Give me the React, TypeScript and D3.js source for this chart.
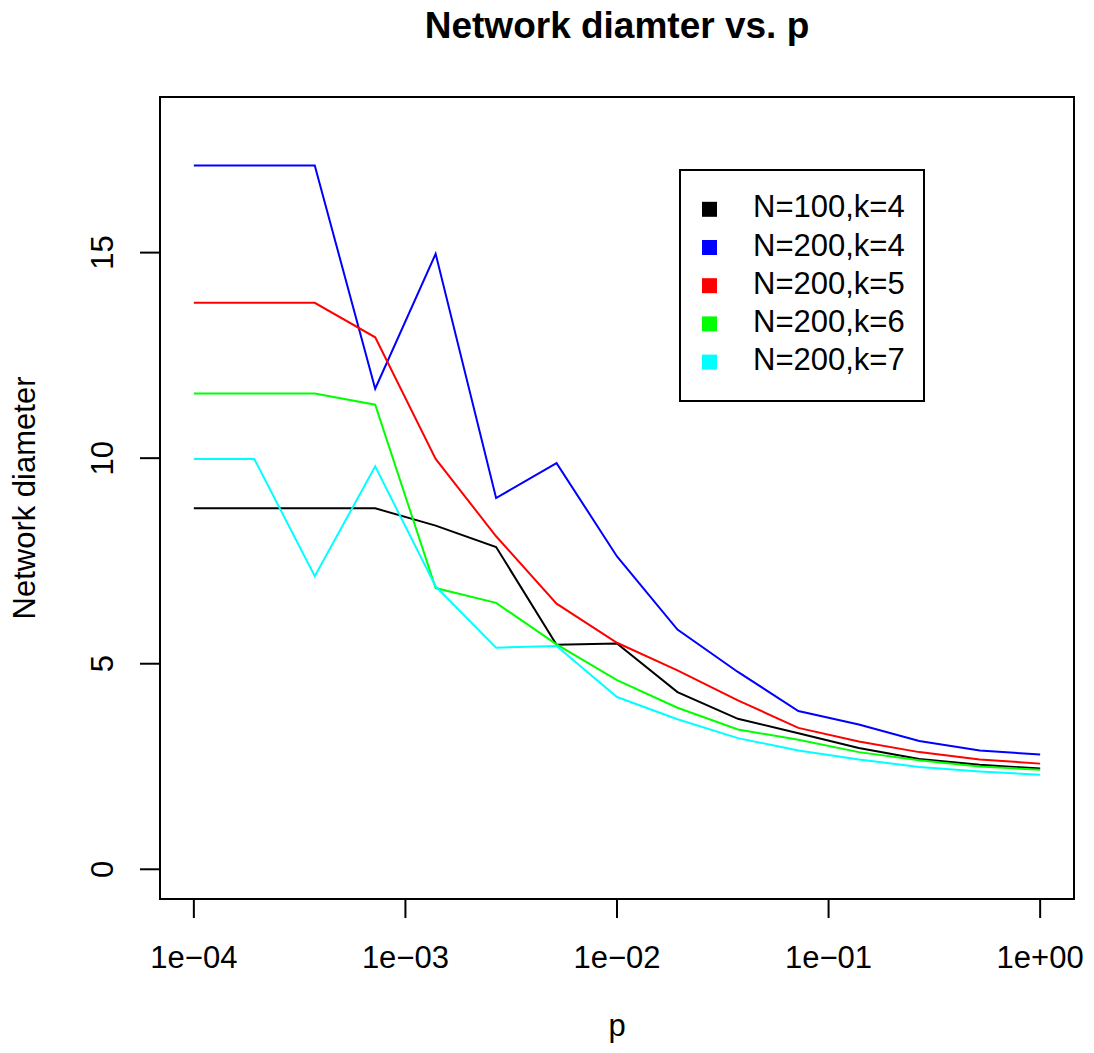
import * as d3 from "d3";

// p values (log spaced, 15 points from 1e-4 to 1)
const pValues = [
  1e-4, 1.931e-4, 3.728e-4, 7.197e-4, 1.3895e-3, 2.6827e-3, 5.1795e-3, 1e-2,
  1.931e-2, 3.728e-2, 7.197e-2, 0.13895, 0.26827, 0.51795, 1,
];

const n100k4 = [8.78, 8.78, 8.78, 8.78, 8.36, 7.84, 5.46, 5.49, 4.31, 3.66, 3.31, 2.95, 2.68, 2.54, 2.45];
const n200k4 = [17.12, 17.12, 17.12, 11.69, 14.97, 9.03, 9.88, 7.61, 5.83, 4.8, 3.85, 3.52, 3.12, 2.89, 2.79];
const n200k5 = [13.78, 13.78, 13.78, 12.94, 9.98, 8.1, 6.46, 5.51, 4.84, 4.11, 3.44, 3.11, 2.85, 2.67, 2.57];
const n200k6 = [11.57, 11.57, 11.57, 11.3, 6.84, 6.48, 5.47, 4.6, 3.93, 3.4, 3.15, 2.85, 2.65, 2.5, 2.42];
const n200k7 = [9.98, 9.98, 7.13, 9.8, 6.88, 5.39, 5.43, 4.19, 3.65, 3.19, 2.89, 2.67, 2.49, 2.38, 2.3];

const seriesNames = ["N=100,k=4", "N=200,k=4", "N=200,k=5", "N=200,k=6", "N=200,k=7"];
const seriesValues = [n100k4, n200k4, n200k5, n200k6, n200k7];
const seriesColors = ["#000000", "#0000ff", "#ff0000", "#00ff00", "#00ffff"];

const xTicks = [1e-4, 1e-3, 1e-2, 1e-1, 1];
const xTickLabels = ["1e\u221204", "1e\u221203", "1e\u221202", "1e\u221201", "1e+00"];
const yTicks = [0, 5, 10, 15];

const width = 1094;
const height = 1053;
const font = "'Liberation Sans', Arial, Helvetica, sans-serif";

const App = () => {
  const left = 160, right = 1074, top = 97, bottom = 899;

  // R style 4% padding on each side
  const x = d3.scaleLog().domain([10 ** -4.16, 10 ** 0.16]).range([left, right]);
  const y = d3.scaleLinear().domain([-0.7228, 18.785]).range([bottom, top]);

  const line = d3.line<number>()
    .x((_, i) => x(pValues[i]))
    .y((d) => y(d));

  const legX = 680, legY = 170, legW = 244, legH = 231;
  const rowStep = 38.2;

  return (
    <svg width={width} height={height} style={{ position: "absolute", left: 0, top: 0 }} fontFamily={font}>
      <rect width={width} height={height} fill="#fff" />
      <text x={617} y={38} textAnchor="middle" fontWeight="bold" fontSize={37}>
        Network diamter vs. p
      </text>

      {seriesValues.map((vals, i) => (
        <path key={seriesNames[i]} d={line(vals) ?? ""} fill="none" stroke={seriesColors[i]} strokeWidth={2} />
      ))}

      <rect x={left} y={top} width={right - left} height={bottom - top} fill="none" stroke="#000" strokeWidth={2} />

      {/* x axis */}
      <line x1={x(xTicks[0])} x2={x(xTicks[xTicks.length - 1])} y1={bottom} y2={bottom} stroke="#000" strokeWidth={2} />
      {xTicks.map((t, i) => (
        <g key={t}>
          <line x1={x(t)} x2={x(t)} y1={bottom} y2={bottom + 19} stroke="#000" strokeWidth={2} />
          <text x={x(t)} y={968} textAnchor="middle" fontSize={31}>{xTickLabels[i]}</text>
        </g>
      ))}
      <text x={617} y={1036} textAnchor="middle" fontSize={31}>p</text>

      {/* y axis */}
      {yTicks.map((t) => (
        <g key={t}>
          <line x1={left - 20} x2={left} y1={y(t)} y2={y(t)} stroke="#000" strokeWidth={2} />
          <text transform={`translate(113,${y(t)}) rotate(-90)`} textAnchor="middle" fontSize={31}>{t}</text>
        </g>
      ))}
      <text transform={`translate(35,${(top + bottom) / 2}) rotate(-90)`} textAnchor="middle" fontSize={31}>
        Network diameter
      </text>

      {/* legend */}
      <rect x={legX} y={legY} width={legW} height={legH} fill="#fff" stroke="#000" strokeWidth={2} />
      {seriesNames.map((name, i) => {
        const cy = 209.3 + i * rowStep;
        return (
          <g key={name}>
            <rect x={702} y={cy - 7.5} width={15} height={15} fill={seriesColors[i]} />
            <text x={753} y={cy + 8} fontSize={31}>{name}</text>
          </g>
        );
      })}
    </svg>
  );
};

export default App;
